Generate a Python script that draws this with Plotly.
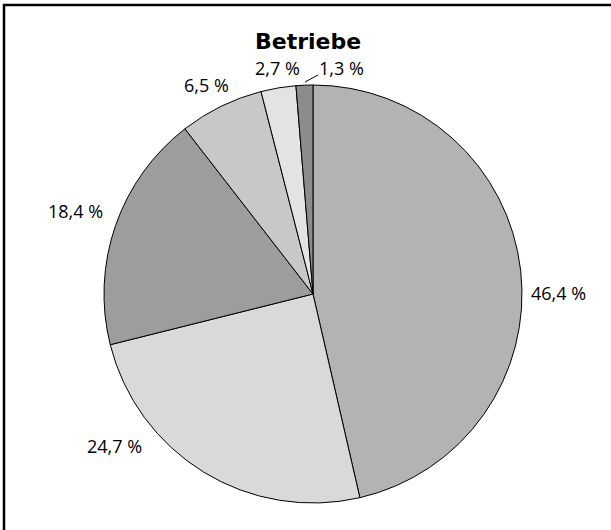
import plotly.graph_objects as go

W, H = 611, 530

# ---- data ----
categories = ["A", "B", "C", "D", "E", "F"]
values = [46.4, 24.7, 18.4, 6.5, 2.7, 1.3]
labels_txt = ["46,4 %", "24,7 %", "18,4 %", "6,5 %", "2,7 %", "1,3 %"]
title = "Betriebe"

# ---- style / layout ----
colors = ["#b3b3b3", "#d9d9d9", "#9d9d9d", "#c8c8c8", "#e3e3e3", "#8c8c8c"]
cx, cy, r = 313, 294, 209
# label centres in pixels (x, y from top-left)
label_pos = [(558, 293), (114, 446), (75, 211), (206, 85), (277, 68), (341, 68)]


def px(x):
    return x / W


def py(y):
    return 1 - y / H


fig = go.Figure(go.Pie(
    labels=categories,
    values=values,
    textinfo="none",
    sort=False,
    direction="clockwise",
    rotation=0,
    marker=dict(colors=colors, line=dict(color="black", width=1)),
    showlegend=False,
    hoverinfo="skip",
    domain=dict(x=[px(cx - r), px(cx + r)], y=[py(cy + r), py(cy - r)]),
))

annotations = [dict(
    text="<b>" + title + "</b>", x=px(308), y=py(42), xref="paper", yref="paper",
    showarrow=False, font=dict(family="DejaVu Sans", size=22, color="black"),
    xanchor="center", yanchor="middle",
)]
for txt, (lx, ly) in zip(labels_txt, label_pos):
    annotations.append(dict(
        text=txt, x=px(lx), y=py(ly), xref="paper", yref="paper", showarrow=False,
        font=dict(family="Open Sans", size=18, color="black"),
        xanchor="center", yanchor="middle",
    ))

fig.update_layout(
    width=W, height=H,
    margin=dict(l=0, r=0, t=0, b=0),
    paper_bgcolor="white",
    plot_bgcolor="white",
    annotations=annotations,
    shapes=[
        dict(type="line", xref="paper", yref="paper", x0=px(3), x1=1.01, y0=py(5), y1=py(5),
             line=dict(color="black", width=2.5)),
        dict(type="line", xref="paper", yref="paper", x0=px(4), x1=px(4), y0=py(4), y1=-0.01,
             line=dict(color="black", width=2.5)),
        # leader line for the smallest slice label
        dict(type="line", xref="paper", yref="paper", x0=px(305), x1=px(318), y0=py(82), y1=py(75),
             line=dict(color="black", width=1)),
    ],
)

fig.write_html(
    "out.html",
    config={"displayModeBar": False},
    post_script="document.body.style.margin='0px';document.body.style.overflow='hidden';",
)
